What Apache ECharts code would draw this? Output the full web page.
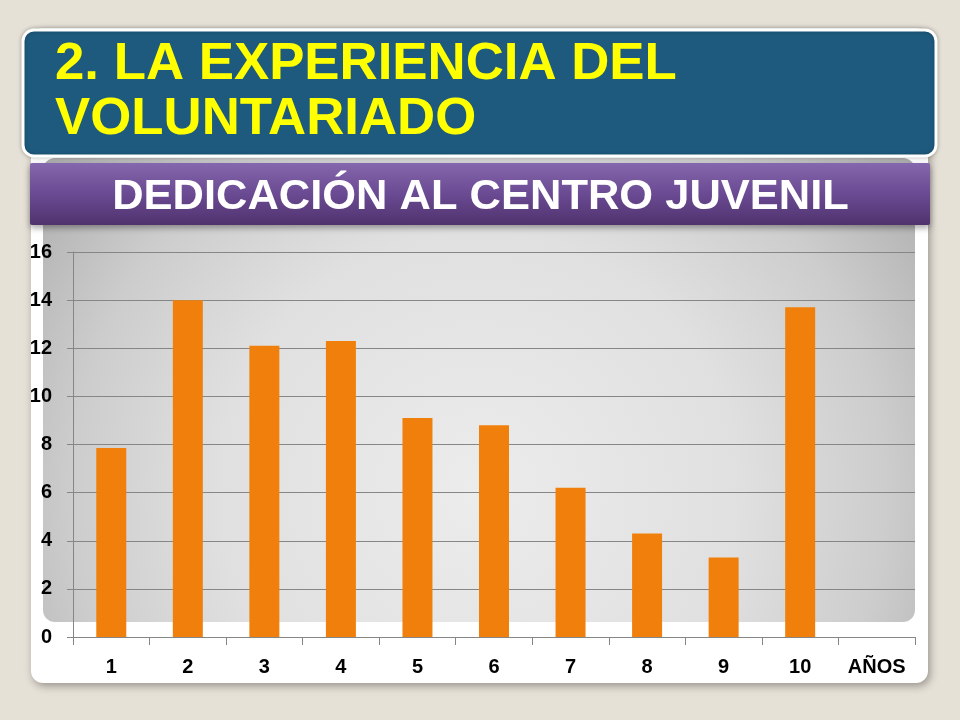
<!DOCTYPE html>
<html>
<head>
<meta charset="utf-8">
<script src="https://cdn.jsdelivr.net/npm/echarts@6/dist/echarts.min.js"></script>
<style>
html,body{margin:0;padding:0;background:#e6e1d7;}
#c{width:960px;height:720px;}
</style>
</head>
<body>
<div id="c"></div>
<script>
var titleLines = ['2. LA EXPERIENCIA DEL', 'VOLUNTARIADO'];
var subtitle = 'DEDICACIÓN AL CENTRO JUVENIL';
var categories = ['1', '2', '3', '4', '5', '6', '7', '8', '9', '10', 'AÑOS'];
var values = [7.85, 14.0, 12.1, 12.3, 9.1, 8.8, 6.2, 4.3, 3.3, 13.7, null];
var yMin = 0, yMax = 16, yInterval = 2;

var chart = echarts.init(document.getElementById('c'), null, {renderer: 'canvas'});
var FONT = '"Liberation Sans", Arial, sans-serif';

var option = {
  backgroundColor: '#e6e1d7',
  animation: false,
  graphic: [
    { type: 'rect', z: -10, shape: {x: 31, y: 28, width: 897, height: 655, r: 12},
      style: {fill: '#ffffff', shadowBlur: 8, shadowOffsetY: 3, shadowOffsetX: 2, shadowColor: 'rgba(0,0,0,0.35)'} },
    { type: 'rect', z: -9, shape: {x: 43, y: 158, width: 872, height: 464, r: 12},
      style: {fill: {type: 'radial', x: 0.5, y: 0.72, r: 1.25,
        colorStops: [{offset: 0, color: '#ececec'}, {offset: 0.45, color: '#e0e0e0'}, {offset: 0.7, color: '#cdcdcd'}, {offset: 1, color: '#a6a6a6'}]}} },
    { type: 'rect', z: -8, shape: {x: 23, y: 30, width: 913, height: 126, r: 11},
      style: {fill: '#1e5a7e', stroke: '#ffffff', lineWidth: 3, shadowBlur: 4, shadowColor: 'rgba(0,0,0,0.25)'} },
    { type: 'text', z: -7, x: 55, y: 64.5, scaleX: 1.035,
      style: {text: titleLines[0], fill: '#ffff00', font: 'bold 51px ' + FONT, verticalAlign: 'middle', align: 'left'} },
    { type: 'text', z: -7, x: 55, y: 119.5, scaleX: 1.035,
      style: {text: titleLines[1], fill: '#ffff00', font: 'bold 51px ' + FONT, verticalAlign: 'middle', align: 'left'} },
    { type: 'rect', z: -8, shape: {x: 30, y: 163, width: 900, height: 62, r: 2},
      style: {fill: {type: 'linear', x: 0, y: 0, x2: 0, y2: 1,
        colorStops: [{offset: 0, color: '#8567ad'}, {offset: 0.5, color: '#6a4a92'}, {offset: 1, color: '#50326e'}]},
        shadowBlur: 6, shadowOffsetY: 3, shadowColor: 'rgba(0,0,0,0.35)'} },
    { type: 'text', z: -7, x: 480.5, y: 197, scaleX: 1.035,
      style: {text: subtitle, fill: '#ffffff', font: 'bold 42px ' + FONT, verticalAlign: 'middle', align: 'center',
        shadowBlur: 2, shadowOffsetY: 1, shadowColor: 'rgba(0,0,0,0.4)'} }
  ],
  grid: {left: 73, right: 45, top: 252, bottom: 83, containLabel: false},
  xAxis: {
    type: 'category',
    data: categories,
    axisLine: {lineStyle: {color: '#868686', width: 1}},
    axisTick: {show: true, length: 8, lineStyle: {color: '#868686'}},
    axisLabel: {color: '#000', fontFamily: FONT, fontWeight: 'bold', fontSize: 20, margin: 20}
  },
  yAxis: {
    type: 'value',
    min: yMin, max: yMax, interval: yInterval,
    axisLine: {show: true, lineStyle: {color: '#868686', width: 1}},
    axisTick: {show: true, length: 6, lineStyle: {color: '#868686'}},
    splitLine: {show: true, lineStyle: {color: '#868686', width: 1}},
    axisLabel: {color: '#000', fontFamily: FONT, fontWeight: 'bold', fontSize: 20, margin: 21}
  },
  series: [{
    type: 'bar',
    data: values,
    barWidth: 30,
    itemStyle: {color: '#f0800b'}
  }]
};
chart.setOption(option);
</script>
</body>
</html>
